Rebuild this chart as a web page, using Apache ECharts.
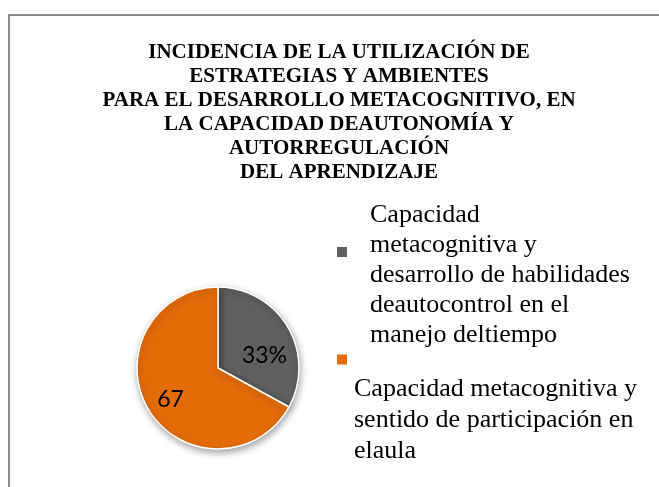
<!DOCTYPE html>
<html>
<head>
<meta charset="utf-8">
<script src="https://cdn.jsdelivr.net/npm/echarts@6/dist/echarts.min.js"></script>
<style>
  html, body { margin: 0; padding: 0; background: #fff; }
  #chart { width: 659px; height: 487px; }
</style>
</head>
<body>
<div id="chart"></div>
<script>
// datos del gráfico
const categories = [
  'Capacidad metacognitiva y desarrollo de habilidades deautocontrol en el manejo deltiempo',
  'Capacidad metacognitiva y sentido de participación en elaula'
];
const values = [33, 67];
const colors = ['#5f5f5f', '#e36c09'];
const titleLines = [
  'INCIDENCIA DE LA UTILIZACIÓN DE',
  'ESTRATEGIAS Y AMBIENTES',
  'PARA EL DESARROLLO METACOGNITIVO, EN',
  'LA CAPACIDAD DEAUTONOMÍA Y',
  'AUTORREGULACIÓN',
  'DEL APRENDIZAJE'
];
// lineas de la leyenda, tal como se cortan en la imagen
const legendLines = [
  ['Capacidad', 'metacognitiva y', 'desarrollo de habilidades', 'deautocontrol en el', 'manejo deltiempo'],
  ['Capacidad metacognitiva y', 'sentido de participación en', 'elaula']
];

const labelOffsets = [[9, 10], [-10, 9]];

let myChart = echarts.init(document.getElementById('chart'));

function legendText(name) {
  let idx = categories.indexOf(name);
  let lines = legendLines[idx].map(function (l) { return '{t|' + l + '}'; });
  return '{gap| }\n' + lines.join('\n');
}

let serif = "'Liberation Serif', 'Times New Roman', serif";

let option = {
  animation: false,
  backgroundColor: '#fff',
  color: colors,
  title: {
    text: titleLines.join('\n'),
    left: 339,
    textAlign: 'center',
    top: 41,
    padding: 0,
    textStyle: {
      fontFamily: serif,
      fontWeight: 'bold',
      fontSize: 21,
      lineHeight: 24,
      color: '#000'
    }
  },
  legend: [
    {
      data: [categories[0]],
      left: 337,
      top: 172,
      padding: 0,
      icon: 'rect',
      itemWidth: 10,
      itemHeight: 10,
      selectedMode: false,
      itemStyle: { borderWidth: 0 },
      formatter: legendText,
      textStyle: {
        fontFamily: serif,
        fontSize: 26,
        color: '#000',
        padding: [0, 0, 0, 18],
        rich: {
          gap: { lineHeight: 46, fontSize: 10 },
          t: { fontFamily: serif, fontSize: 26, lineHeight: 30, color: '#000' }
        }
      }
    },
    {
      data: [categories[1]],
      left: 337,
      top: 308,
      padding: 0,
      icon: 'rect',
      itemWidth: 10,
      itemHeight: 10,
      selectedMode: false,
      itemStyle: { borderWidth: 0 },
      formatter: legendText,
      textStyle: {
        fontFamily: serif,
        fontSize: 26,
        color: '#000',
        padding: [0, 0, 0, 2],
        rich: {
          gap: { lineHeight: 122, fontSize: 10 },
          t: { fontFamily: serif, fontSize: 26, lineHeight: 31, color: '#000' }
        }
      }
    }
  ],
  graphic: [
    {
      type: 'rect',
      silent: true,
      shape: { x: 9, y: 15, width: 700, height: 600 },
      style: { fill: 'none', stroke: '#8a8a8a', lineWidth: 2 }
    }
  ],
  series: [
    {
      type: 'pie',
      center: [218, 368],
      radius: 81,
      startAngle: 90,
      clockwise: true,
      silent: true,
      itemStyle: {
        borderColor: '#fff',
        borderWidth: 1.5,
        shadowBlur: 7,
        shadowOffsetY: 3,
        shadowOffsetX: 1,
        shadowColor: 'rgba(0,0,0,0.35)'
      },
      label: {
        show: true,
        position: 'inside',
        fontFamily: 'Lato, Carlito, sans-serif',
        fontSize: 23,
        color: '#000',
        formatter: function (p) {
          return p.dataIndex === 0 ? p.value + '%' : String(p.value);
        }
      },
      labelLine: { show: false },
      data: values.map(function (v, i) {
        return {
          name: categories[i],
          value: v,
          label: { offset: labelOffsets[i] }
        };
      })
    }
  ]
};

myChart.setOption(option);
</script>
</body>
</html>
